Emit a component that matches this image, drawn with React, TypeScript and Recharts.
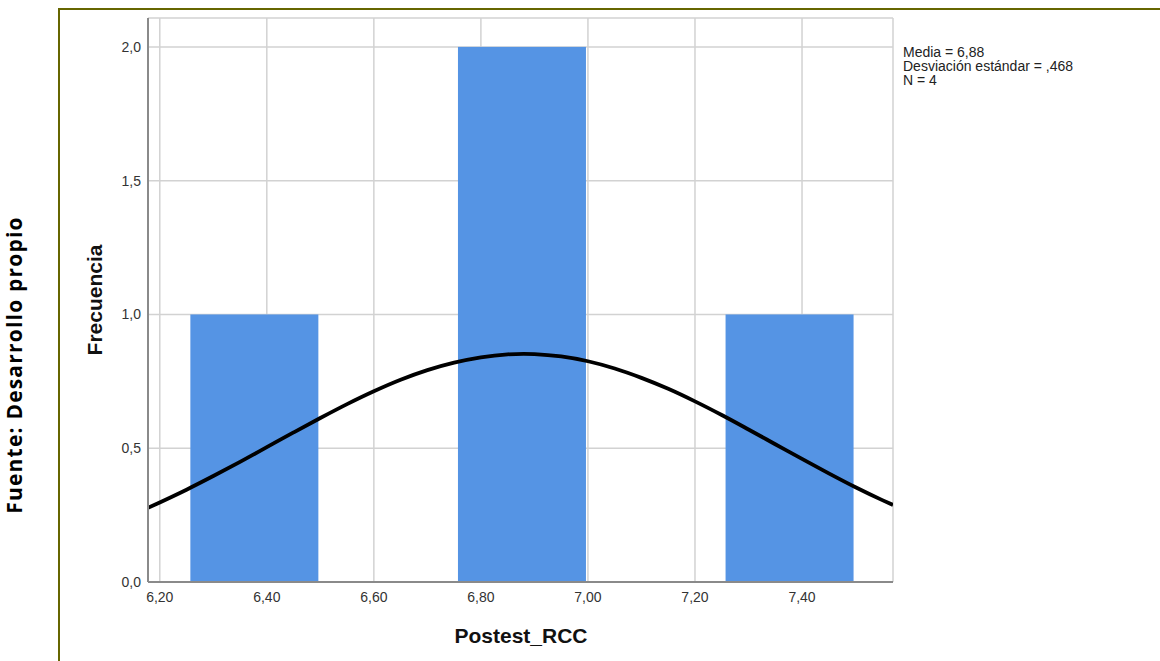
import React from "react";
import {
  ComposedChart,
  Bar,
  Line,
  XAxis,
  YAxis,
  CartesianGrid,
} from "recharts";

// Histogram bins (centers) and their frequencies
const binCenters = [6.377, 6.877, 7.377];
const binCounts = [1, 2, 1];

// Normal curve points
const curveX = [
  6.178, 6.25, 6.3, 6.35, 6.4, 6.45, 6.5, 6.55, 6.6, 6.65, 6.7, 6.75, 6.8, 6.85,
  6.88, 6.9, 6.95, 7.0, 7.05, 7.1, 7.15, 7.2, 7.25, 7.3, 7.35, 7.4, 7.45, 7.5,
  7.55, 7.57,
];
const curveY = [
  0.277, 0.345, 0.396, 0.449, 0.504, 0.559, 0.613, 0.665, 0.713, 0.756, 0.792,
  0.82, 0.84, 0.851, 0.853, 0.852, 0.843, 0.825, 0.798, 0.763, 0.722, 0.675,
  0.624, 0.57, 0.515, 0.46, 0.406, 0.354, 0.306, 0.288,
];

const xTicks = [6.2, 6.4, 6.6, 6.8, 7.0, 7.2, 7.4];
const yTicks = [0, 0.5, 1, 1.5, 2];
const xDomain = [6.178, 7.57];
const yDomain = [0, 2.108];

const statsLines = ["Media = 6,88", "Desviación estándar = ,468", "N = 4"];
const xTitle = "Postest_RCC";
const yTitle = "Frecuencia";
const sourceNote = "Fuente: Desarrollo propio";

const rows: { x: number; curve?: number; count?: number }[] = [];
curveX.forEach((x, i) => rows.push({ x, curve: curveY[i] }));
binCenters.forEach((x, i) => rows.push({ x, count: binCounts[i] }));
rows.sort((a, b) => a.x - b.x);

const fmt = (d: number) => (v: number) => v.toFixed(d).replace(".", ",");

const SANS = "'Liberation Sans', Arial, sans-serif";
const BAR_W = 128;

const HistBar = (p: any) => {
  if (p.height == null || !isFinite(p.height) || p.height <= 0) return null;
  const cx = p.x + p.width / 2;
  return (
    <rect
      x={cx - BAR_W / 2}
      y={p.y}
      width={BAR_W}
      height={p.height}
      fill="#5594e4"
    />
  );
};

export default function App() {
  return (
    <div
      style={{
        position: "fixed",
        left: 0,
        top: 0,
        width: 1160,
        height: 661,
        overflow: "hidden",
        background: "#ffffff",
      }}
    >
      <div
        style={{
          position: "absolute",
          left: 58,
          top: 8,
          width: 1200,
          height: 800,
          border: "2px solid #666600",
          boxSizing: "border-box",
        }}
      />
      <div style={{ position: "absolute", left: 0, top: 0 }}>
        <ComposedChart
          width={1160}
          height={661}
          data={rows}
          margin={{ top: 18, right: 267, bottom: 49, left: 88 }}
        >
          <CartesianGrid stroke="#d2d2d2" strokeWidth={1.5} />
          <XAxis
            type="number"
            dataKey="x"
            domain={xDomain}
            ticks={xTicks}
            allowDataOverflow
            tickFormatter={fmt(2)}
            height={30}
            tickLine={false}
            tickSize={0}
            tickMargin={10}
            stroke="#8a8a8a"
            strokeWidth={2}
            tick={{ fill: "#333333", fontSize: 14, fontFamily: SANS }}
          />
          <YAxis
            type="number"
            domain={yDomain}
            ticks={yTicks}
            allowDataOverflow
            tickFormatter={fmt(1)}
            width={60}
            tickLine={false}
            tickSize={0}
            tickMargin={7}
            stroke="#8a8a8a"
            strokeWidth={2}
            tick={{ fill: "#333333", fontSize: 14, fontFamily: SANS }}
          />
          <Bar
            dataKey="count"
            fill="#5594e4"
            shape={HistBar}
            isAnimationActive={false}
          />
          <Line
            dataKey="curve"
            type="monotone"
            stroke="#000000"
            strokeWidth={3.8}
            dot={false}
            activeDot={false}
            connectNulls
            isAnimationActive={false}
          />
        </ComposedChart>
      </div>
      <svg
        width={1160}
        height={661}
        style={{ position: "absolute", left: 0, top: 0, pointerEvents: "none" }}
      >
        {statsLines.map((t, i) => (
          <text
            key={t}
            x={903}
            y={57 + i * 13.8}
            fontSize={14}
            fontFamily={SANS}
            fill="#222222"
          >
            {t}
          </text>
        ))}
        <text
          x={521}
          y={643}
          textAnchor="middle"
          fontSize={21}
          fontWeight="bold"
          fontFamily={SANS}
          fill="#111111"
        >
          {xTitle}
        </text>
        <text
          transform="translate(102,300) rotate(-90)"
          textAnchor="middle"
          fontSize={21}
          fontWeight="bold"
          fontFamily={SANS}
          fill="#111111"
        >
          {yTitle}
        </text>
        <text
          transform="translate(22,365) rotate(-90)"
          textAnchor="middle"
          fontSize={21}
          fontWeight="bold"
          letterSpacing={1.2}
          fontFamily="'Open Sans', Lato, sans-serif"
          fill="#000000"
        >
          {sourceNote}
        </text>
      </svg>
    </div>
  );
}
